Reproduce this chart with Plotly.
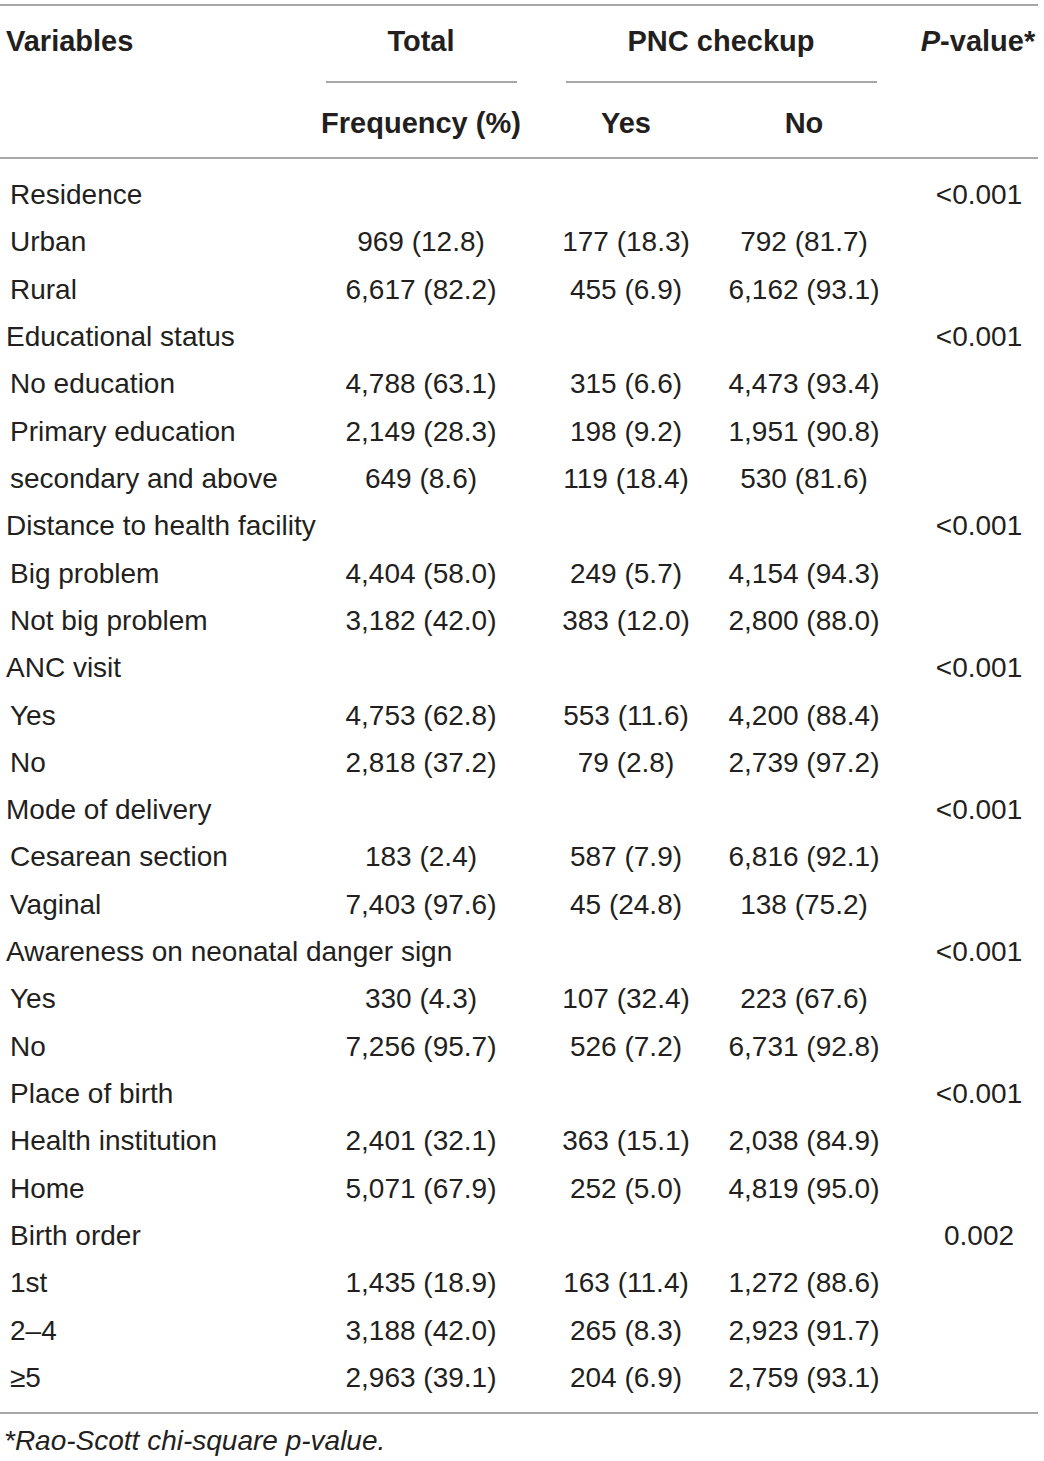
import plotly.graph_objects as go

# ---- data ----
variables = [
    "Residence", "Urban", "Rural",
    "Educational status", "No education", "Primary education", "secondary and above",
    "Distance to health facility", "Big problem", "Not big problem",
    "ANC visit", "Yes", "No",
    "Mode of delivery", "Cesarean section", "Vaginal",
    "Awareness on neonatal danger sign", "Yes", "No",
    "Place of birth", "Health institution", "Home",
    "Birth order", "1st", "2–4", "≥5",
]
indent = [10, 10, 10, 6, 10, 10, 10, 6, 10, 10, 6, 10, 10, 6, 10, 10, 6, 10, 10,
          10, 10, 10, 10, 10, 10, 10]
total_freq = [
    "", "969 (12.8)", "6,617 (82.2)",
    "", "4,788 (63.1)", "2,149 (28.3)", "649 (8.6)",
    "", "4,404 (58.0)", "3,182 (42.0)",
    "", "4,753 (62.8)", "2,818 (37.2)",
    "", "183 (2.4)", "7,403 (97.6)",
    "", "330 (4.3)", "7,256 (95.7)",
    "", "2,401 (32.1)", "5,071 (67.9)",
    "", "1,435 (18.9)", "3,188 (42.0)", "2,963 (39.1)",
]
pnc_yes = [
    "", "177 (18.3)", "455 (6.9)",
    "", "315 (6.6)", "198 (9.2)", "119 (18.4)",
    "", "249 (5.7)", "383 (12.0)",
    "", "553 (11.6)", "79 (2.8)",
    "", "587 (7.9)", "45 (24.8)",
    "", "107 (32.4)", "526 (7.2)",
    "", "363 (15.1)", "252 (5.0)",
    "", "163 (11.4)", "265 (8.3)", "204 (6.9)",
]
pnc_no = [
    "", "792 (81.7)", "6,162 (93.1)",
    "", "4,473 (93.4)", "1,951 (90.8)", "530 (81.6)",
    "", "4,154 (94.3)", "2,800 (88.0)",
    "", "4,200 (88.4)", "2,739 (97.2)",
    "", "6,816 (92.1)", "138 (75.2)",
    "", "223 (67.6)", "6,731 (92.8)",
    "", "2,038 (84.9)", "4,819 (95.0)",
    "", "1,272 (88.6)", "2,923 (91.7)", "2,759 (93.1)",
]
p_values = [
    "<0.001", "", "",
    "<0.001", "", "", "",
    "<0.001", "", "",
    "<0.001", "", "",
    "<0.001", "", "",
    "<0.001", "", "",
    "<0.001", "", "",
    "0.002", "", "", "",
]
footnote = "*Rao-Scott chi-square p-value."

# ---- layout constants ----
W, H = 1044, 1461
FONT = "Liberation Sans, Arial, sans-serif"
TXT = "#231f20"
LINE = "#8a8a8a"
FS = 28
FSB = 29
row0, dy = 197, 47.32
ys = [row0 + i * dy for i in range(len(variables))]
x_total, x_yes, x_no, x_p = 421, 626, 804, 979

fig = go.Figure()

def add_text(xs, yv, texts, pos, size=FS):
    fig.add_trace(go.Scatter(
        x=xs, y=yv, text=texts, mode="text", textposition=pos,
        textfont=dict(family=FONT, size=size, color=TXT),
        hoverinfo="skip", showlegend=False,
    ))

add_text(indent, ys, variables, "middle right")
add_text([x_total] * len(ys), ys, total_freq, "middle center")
add_text([x_yes] * len(ys), ys, pnc_yes, "middle center")
add_text([x_no] * len(ys), ys, pnc_no, "middle center")
add_text([x_p] * len(ys), ys, p_values, "middle center")

# header
hy1, hy2 = 44, 126
add_text([6], [hy1], ["<b>Variables</b>"], "middle right", FSB)
add_text([x_total], [hy1], ["<b>Total</b>"], "middle center", FSB)
add_text([721], [hy1], ["<b>PNC checkup</b>"], "middle center", FSB)
add_text([978], [hy1], ["<b><i>P</i>-value*</b>"], "middle center", FSB)
add_text([x_total], [hy2], ["<b>Frequency (%)</b>"], "middle center", FSB)
add_text([x_yes], [hy2], ["<b>Yes</b>"], "middle center", FSB)
add_text([x_no], [hy2], ["<b>No</b>"], "middle center", FSB)

# footnote
add_text([4], [1443], ["<i>" + footnote + "</i>"], "middle right", 28)

# rules
for (x0, x1, y) in [(0, 1038, 5), (326, 517, 82), (566, 877, 82),
                    (0, 1038, 158), (0, 1038, 1413)]:
    fig.add_shape(type="line", x0=x0, x1=x1, y0=y, y1=y, xref="x", yref="y",
                  line=dict(color=LINE, width=1.6))

fig.update_layout(
    width=W, height=H, margin=dict(l=0, r=0, t=0, b=0),
    paper_bgcolor="white", plot_bgcolor="white",
    xaxis=dict(range=[0, W], visible=False, fixedrange=True),
    yaxis=dict(range=[H, 0], visible=False, fixedrange=True),
)

fig.write_html("out.html",
               config={"displayModeBar": False, "staticPlot": True},
               post_script="document.body.style.margin='0';document.body.style.overflow='hidden';")
